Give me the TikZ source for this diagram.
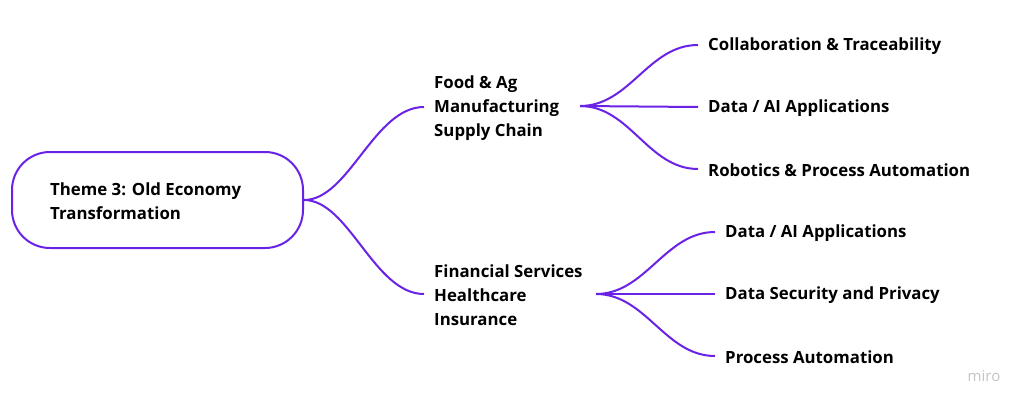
\documentclass[tikz,border=0pt]{standalone}
\usepackage{fontspec}
\setmainfont{Open Sans}
\definecolor{miroPurple}{HTML}{6A23E6}
\definecolor{miroGray}{HTML}{C4C4C8}
\begin{document}
\begin{tikzpicture}[x=1pt,y=-1pt,
  lbl/.style={font=\fontsize{16.8}{24}\selectfont\bfseries, align=left, anchor=west, inner xsep=10pt, inner ysep=0pt, text=black, yshift=-1.5pt},
  conn/.style={draw=miroPurple, line width=2pt},
  rootbox/.style={draw=miroPurple, line width=2pt, rounded corners=38pt, minimum width=291pt, minimum height=96pt, inner sep=0pt}
]
\useasboundingbox (0,0) rectangle (1024,404);
\fill[white] (0,0) rectangle (1024,404);
% root
\node[rootbox] (root) at (157.5,200) {};
\node[lbl, inner xsep=0pt] (roottext) at (50,200) {Theme 3: Old Economy\\Transformation};
% level 1
\node[lbl] (food) at (424,107) {Food \& Ag\\Manufacturing\\Supply Chain};
\node[lbl] (fin) at (424,294) {Financial Services\\Healthcare\\Insurance};
\coordinate (foodout) at (580,106);
\coordinate (finout) at (596,294);
% level 2
\node[lbl] (c1) at (698,45) {Collaboration \& Traceability};
\node[lbl] (c2) at (698,107) {Data / AI Applications};
\node[lbl] (c3) at (698,169) {Robotics \& Process Automation};
\node[lbl] (d1) at (715,232) {Data / AI Applications};
\node[lbl] (d2) at (715,294) {Data Security and Privacy};
\node[lbl] (d3) at (715,356) {Process Automation};
% connectors
\draw[conn] (root.east) .. controls ++(45,0) and ++(-50,0) .. ([yshift=1.5pt]food.west);
\draw[conn] (root.east) .. controls ++(45,0) and ++(-50,0) .. ([yshift=1.5pt]fin.west);
\draw[conn] (foodout) .. controls ++(50,0) and ++(-50,0) .. ([yshift=1.5pt]c1.west);
\draw[conn] (foodout) -- ([yshift=1.5pt]c2.west);
\draw[conn] (foodout) .. controls ++(50,0) and ++(-50,0) .. ([yshift=1.5pt]c3.west);
\draw[conn] (finout) .. controls ++(50,0) and ++(-50,0) .. ([yshift=1.5pt]d1.west);
\draw[conn] (finout) -- ([yshift=1.5pt]d2.west);
\draw[conn] (finout) .. controls ++(50,0) and ++(-50,0) .. ([yshift=1.5pt]d3.west);
% logo
\node[font=\fontsize{15}{17}\selectfont, text=miroGray, anchor=center, inner sep=0pt] (logo) at (984,376) {miro};
\end{tikzpicture}
\end{document}
